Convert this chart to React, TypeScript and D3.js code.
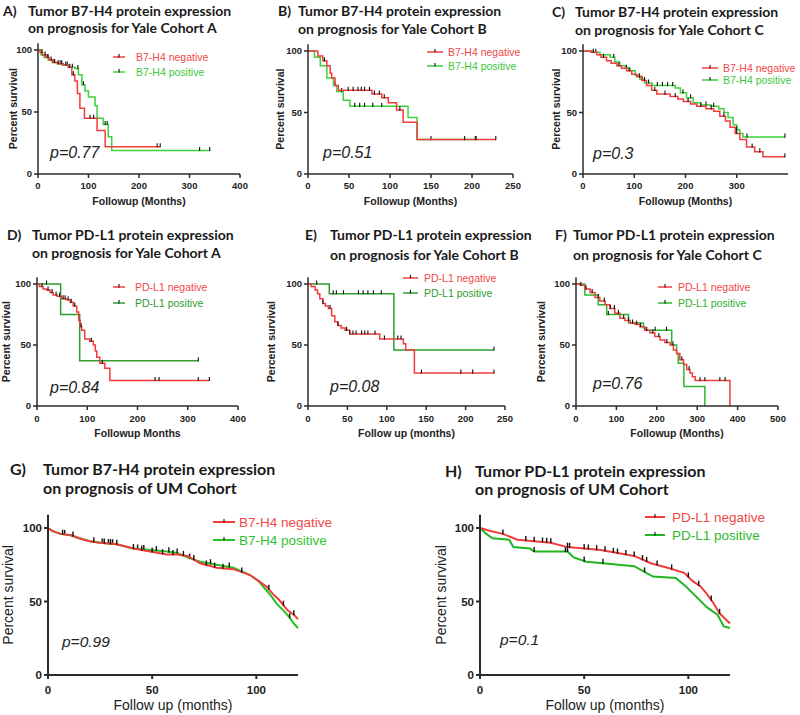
import React from "react";
import * as d3 from "d3";

type Pt = [number, number];

// ---------- Panel A: B7-H4, Yale Cohort A ----------
const aNeg: Pt[] = [[0,100],[4,98],[9,96],[15,94],[22,92],[30,90],[40,89],[50,88],[60,86],[67,80],[73,75],[78,65],[83,53],[92,45],[117,35],[133,22],[242,22]];
const aNegCens = [8,14,20,26,33,40,47,55,63,70,103,110,236,242];
const aPos: Pt[] = [[0,100],[6,96],[12,94],[20,92],[28,90],[38,89],[48,88],[60,86],[73,85],[80,80],[87,72],[93,67],[100,62],[113,55],[117,45],[129,40],[139,30],[146,19],[341,19]];
const aPosCens = [18,30,44,58,68,79,90,133,137,320,340];

// ---------- Panel B: B7-H4, Yale Cohort B ----------
const bNeg: Pt[] = [[0,100],[12,96],[18,92],[23,88],[27,82],[29,78],[33,72],[37,68],[78,65],[90,62],[98,58],[108,52],[116,42],[133,28],[229,28]];
const bNegCens = [20,49,55,61,65,69,75,81,87,93,112,191,205,229];
const bPos: Pt[] = [[0,100],[8,95],[15,88],[23,78],[31,72],[35,67],[43,60],[51,55],[122,46],[133,28],[204,28]];
const bPosCens = [33,41,57,63,69,79,90,150,204];

// ---------- Panel C: B7-H4, Yale Cohort C ----------
const cNeg: Pt[] = [[0,100],[15,99],[27,97],[35,95],[46,92],[55,90],[66,88],[75,86],[85,84],[95,81],[105,79],[115,76],[124,72],[134,68],[144,65],[170,63],[185,61],[196,59],[210,57],[222,55],[240,53],[255,51],[267,47],[278,43],[287,38],[297,33],[306,28],[319,22],[335,18],[351,14],[394,14]];
const cNegCens = [20,40,70,90,110,120,140,160,180,205,230,250,275,300,330,345,394];
const cPos: Pt[] = [[0,100],[20,99],[33,97],[53,95],[62,91],[72,88],[82,86],[92,84],[102,80],[111,77],[120,74],[135,72],[180,70],[190,66],[202,62],[215,58],[230,56],[250,55],[265,53],[275,50],[283,46],[293,40],[300,36],[306,33],[312,30],[394,30]];
const cPosCens = [25,60,85,115,128,145,155,165,175,195,210,240,255,300,320,394];

// ---------- Panel D: PD-L1, Yale Cohort A ----------
const dNeg: Pt[] = [[0,100],[5,98],[12,96],[19,95],[26,93],[32,91],[40,90],[49,88],[58,87],[66,85],[72,82],[79,77],[83,70],[86,65],[89,62],[95,55],[105,53],[112,50],[116,45],[119,40],[125,35],[135,31],[145,21],[343,21]];
const dNegCens = [10,22,30,38,45,52,56,62,68,75,88,108,130,235,243,321,343];
const dPos: Pt[] = [[0,100],[47,75],[85,37],[321,37]];
const dPosCens = [19,321];

// ---------- Panel E: PD-L1, Yale Cohort B ----------
const eNeg: Pt[] = [[0,100],[4,98],[9,95],[12,92],[15,88],[19,84],[22,82],[26,80],[30,74],[34,69],[38,66],[42,64],[47,62],[53,59],[91,55],[121,51],[124,46],[135,27],[236,27]];
const eNegCens = [19,28,38,49,53,57,61,68,72,76,85,97,114,118,144,194,209,236];
const ePos: Pt[] = [[0,100],[27,92],[109,46],[236,46]];
const ePosCens = [11,32,36,45,64,70,76,83,93,236];

// ---------- Panel F: PD-L1, Yale Cohort C ----------
const fNeg: Pt[] = [[0,100],[10,99],[22,96],[35,93],[47,89],[59,86],[72,83],[84,80],[96,76],[109,72],[121,70],[134,68],[146,67],[158,65],[170,62],[183,60],[195,57],[208,54],[220,52],[233,50],[241,46],[249,43],[257,38],[266,34],[274,30],[282,27],[288,24],[295,21],[381,21],[381,0]];
const fNegCens = [12,25,40,55,70,85,95,105,118,130,140,150,160,175,190,205,225,240,262,280,307,319,356,369];
const fPos: Pt[] = [[0,100],[22,91],[55,83],[76,75],[130,68],[167,64],[171,62],[237,50],[249,43],[253,35],[267,16],[319,16],[319,0]];
const fPosCens = [80,196,224];

// ---------- Panel G: B7-H4, UM Cohort ----------
const gNeg: Pt[] = [[0,100],[2,98],[6,96],[11,95],[15,93],[20,91],[25,90],[33,89],[41,86],[49,84],[57,82],[62,82],[67,81],[73,76],[81,73],[89,72],[97,68],[102,63],[105,60],[108,55],[111,51],[115,44],[118,41],[120,38]];
const gNegCens = [7,12,22,27,30,33,41,45,50,55,60,65,70,76,80,84,93,106,113,118];
const gPos: Pt[] = [[0,100],[2,98],[6,96],[11,95],[15,93],[20,91],[25,90],[33,89],[41,86],[49,85],[57,84],[62,83],[67,80],[73,77],[81,75],[89,73],[97,68],[101,64],[104,59],[107,54],[110,48],[113,44],[116,39],[118,35],[120,32]];
const gPosCens = [8,26,29,31,43,46,52,58,62,68,78,87,116];

// ---------- Panel H: PD-L1, UM Cohort ----------
const hNeg: Pt[] = [[0,100],[5,98],[11,96],[18,92],[26,91],[34,90],[42,87],[50,86],[58,85],[66,83],[74,81],[82,76],[90,73],[98,69.5],[102,64],[106,60],[109,55],[112,49],[115,42],[120,35]];
const hNegCens = [11,22,26,30,32,34,42,43,50,52,56,60,64,66,70,74,78,80,85,92,100,105,111,115];
const hPos: Pt[] = [[0,100],[3,96],[6,93],[14,92],[16,87],[24,86],[26,84],[42,84],[45,80],[51,77],[59,76],[74,74],[83,67],[94,66],[99,60],[104,53],[109,46],[114,41],[117,33],[120,32]];
const hPosCens = [26,41,42,50,59,79];

const yTicks = [0, 50, 100];
const RED = "#f23c3c";

interface Cfg {
  label: string; title1: string; title2: string;
  labelX: number; titleX: number; t1y: number; t2y: number; titleSize: number;
  x0: number; x1: number; y100: number; y0: number; yMax: number;
  domain: [number, number]; xticks: number[];
  xlabel: string; xlabelY: number; tickLabelY: number; ylabelX: number;
  tickSize: number; axisSize: number; axisBold: boolean; axisW: number;
  leg: { l1: number; l2: number; tx: number; y1: number; y2: number; size: number };
  names: [string, string];
  p: { text: string; x: number; y: number; size: number };
  neg: Pt[]; pos: Pt[]; negC: number[]; posC: number[];
  green: string; greenText: string; linear: boolean; lw: number;
}

const small = (o: Partial<Cfg>): Partial<Cfg> => ({
  titleSize: 14, yMax: 105.5, tickSize: 9.5, axisSize: 10.5, axisBold: true, axisW: 1.5, linear: false, lw: 1.5, ...o,
});

const panels: Cfg[] = [
  small({ label: "A)", title1: "Tumor B7-H4 protein expression", title2: "on prognosis for Yale Cohort A", labelX: 3, titleX: 28, t1y: 16, t2y: 33,
    x0: 38, x1: 240, y100: 50, y0: 174, domain: [0, 400], xticks: [0, 100, 200, 300, 400], xlabel: "Followup (Months)", xlabelY: 204.5, tickLabelY: 189, ylabelX: 13,
    leg: { l1: 113, l2: 125, tx: 136, y1: 57, y2: 72, size: 10.5 }, names: ["B7-H4 negative", "B7-H4 positive"], p: { text: "p=0.77", x: 50, y: 158, size: 16 },
    neg: aNeg, pos: aPos, negC: aNegCens, posC: aPosCens, green: "#3ed23e", greenText: "#3ec83e" }),
  small({ label: "B)", title1: "Tumor B7-H4 protein expression", title2: "on prognosis for Yale Cohort B", labelX: 278, titleX: 298, t1y: 16, t2y: 34,
    x0: 308, x1: 513, y100: 51, y0: 174, domain: [0, 250], xticks: [0, 50, 100, 150, 200, 250], xlabel: "Followup (Months)", xlabelY: 204.5, tickLabelY: 189, ylabelX: 280,
    leg: { l1: 427, l2: 443, tx: 448, y1: 52, y2: 66, size: 10.5 }, names: ["B7-H4 negative", "B7-H4 positive"], p: { text: "p=0.51", x: 323, y: 158, size: 16 },
    neg: bNeg, pos: bPos, negC: bNegCens, posC: bPosCens, green: "#3ed23e", greenText: "#3ec83e" }),
  small({ label: "C)", title1: "Tumor B7-H4 protein expression", title2: "on prognosis for Yale Cohort C", labelX: 552, titleX: 575, t1y: 17, t2y: 35,
    x0: 583, x1: 788, y100: 51, y0: 174, domain: [0, 400], xticks: [0, 100, 200, 300], xlabel: "Followup (Months)", xlabelY: 204.5, tickLabelY: 189, ylabelX: 556,
    leg: { l1: 702, l2: 718, tx: 723, y1: 68, y2: 80, size: 10.5 }, names: ["B7-H4 negative", "B7-H4 positive"], p: { text: "p=0.3", x: 593, y: 159, size: 16 },
    neg: cNeg, pos: cPos, negC: cNegCens, posC: cPosCens, green: "#3ed23e", greenText: "#3ec83e" }),
  small({ label: "D)", title1: "Tumor PD-L1 protein expression", title2: "on prognosis for Yale Cohort A", labelX: 7, titleX: 32, t1y: 240, t2y: 258,
    x0: 37, x1: 238, y100: 284, y0: 406, domain: [0, 400], xticks: [0, 100, 200, 300, 400], xlabel: "Followup Months", xlabelY: 437, tickLabelY: 421.5, ylabelX: 6,
    leg: { l1: 113, l2: 125, tx: 135, y1: 287, y2: 303, size: 10.5 }, names: ["PD-L1 negative", "PD-L1 positive"], p: { text: "p=0.84", x: 50, y: 393, size: 16 },
    neg: dNeg, pos: dPos, negC: dNegCens, posC: dPosCens, green: "#2f9e2f", greenText: "#2f9a2f" }),
  small({ label: "E)", title1: "Tumor PD-L1 protein expression", title2: "on prognosis for Yale Cohort B", labelX: 305, titleX: 330, t1y: 240, t2y: 260,
    x0: 308, x1: 505, y100: 284, y0: 406, domain: [0, 250], xticks: [0, 50, 100, 150, 200, 250], xlabel: "Follow up (months)", xlabelY: 437, tickLabelY: 421.5, ylabelX: 271,
    leg: { l1: 403, l2: 418, tx: 424, y1: 278, y2: 293, size: 10.5 }, names: ["PD-L1 negative", "PD-L1 positive"], p: { text: "p=0.08", x: 330, y: 392, size: 16 },
    neg: eNeg, pos: ePos, negC: eNegCens, posC: ePosCens, green: "#2f9e2f", greenText: "#2f9a2f" }),
  small({ label: "F)", title1: "Tumor PD-L1 protein expression", title2: "on prognosis for Yale Cohort C", labelX: 555, titleX: 573, t1y: 240, t2y: 260,
    x0: 576, x1: 778, y100: 284, y0: 406, domain: [0, 500], xticks: [0, 100, 200, 300, 400, 500], xlabel: "Followup (Months)", xlabelY: 437, tickLabelY: 421.5, ylabelX: 541,
    leg: { l1: 658, l2: 672, tx: 678, y1: 287, y2: 303, size: 10.5 }, names: ["PD-L1 negative", "PD-L1 positive"], p: { text: "p=0.76", x: 593, y: 389, size: 16 },
    neg: fNeg, pos: fPos, negC: fNegCens, posC: fPosCens, green: "#2fb82f", greenText: "#2fb02f" }),
  small({ label: "G)", title1: "Tumor B7-H4 protein expression", title2: "on prognosis of UM Cohort", labelX: 10, titleX: 43, t1y: 475, t2y: 494, titleSize: 16,
    x0: 48, x1: 298, y100: 528, y0: 675, yMax: 109, domain: [0, 120], xticks: [0, 50, 100], xlabel: "Follow up (months)", xlabelY: 710, tickLabelY: 693.5, ylabelX: 8,
    tickSize: 11.5, axisSize: 14, axisBold: false, axisW: 2,
    leg: { l1: 213, l2: 235, tx: 239, y1: 522, y2: 540, size: 13.5 }, names: ["B7-H4 negative", "B7-H4 positive"], p: { text: "p=0.99", x: 62, y: 647, size: 15.5 },
    neg: gNeg, pos: gPos, negC: gNegCens, posC: gPosCens, green: "#22c222", greenText: "#2ec42e", linear: true, lw: 2 }),
  small({ label: "H)", title1: "Tumor PD-L1 protein expression", title2: "on prognosis of UM Cohort", labelX: 445, titleX: 475, t1y: 477, t2y: 495, titleSize: 16,
    x0: 480, x1: 730, y100: 528, y0: 675, yMax: 109, domain: [0, 120], xticks: [0, 50, 100], xlabel: "Follow up (months)", xlabelY: 710, tickLabelY: 693.5, ylabelX: 441,
    tickSize: 11.5, axisSize: 14, axisBold: false, axisW: 2,
    leg: { l1: 645, l2: 665, tx: 672, y1: 517, y2: 535, size: 13.5 }, names: ["PD-L1 negative", "PD-L1 positive"], p: { text: "p=0.1", x: 500, y: 645, size: 15.5 },
    neg: hNeg, pos: hPos, negC: hNegCens, posC: hPosCens, green: "#22b522", greenText: "#2eb82e", linear: true, lw: 2 }),
] as Cfg[];

function valueAt(d: Pt[], t: number, linear: boolean): number {
  let v = d[0][1];
  for (let i = 0; i < d.length; i++) {
    if (d[i][0] <= t) v = d[i][1];
    else {
      if (linear && i > 0) {
        const [t0, s0] = d[i - 1];
        const [t1, s1] = d[i];
        v = s0 + ((s1 - s0) * (t - t0)) / (t1 - t0);
      }
      break;
    }
  }
  return v;
}

const AX = "#2b2b2b";
const SANS = "Arial, 'Liberation Sans', sans-serif";
const TITLE = "Lato, 'Open Sans', sans-serif";

function Panel({ c }: { c: Cfg }) {
  const xs = d3.scaleLinear().domain(c.domain).range([c.x0, c.x1]);
  const ys = d3.scaleLinear().domain([0, 100]).range([c.y0, c.y100]);
  const line = d3
    .line<Pt>()
    .x((d) => xs(d[0]))
    .y((d) => ys(d[1]))
    .curve(c.linear ? d3.curveLinear : d3.curveStepAfter);
  const yTop = ys(c.yMax);
  const series = [
    { data: c.pos, cens: c.posC, color: c.green },
    { data: c.neg, cens: c.negC, color: RED },
  ];
  const cw = c.linear ? 1.4 : 1.1;
  const ch = c.linear ? 4.5 : 3.5;
  return (
    <g>
      <text fontFamily={TITLE} fontWeight={700} fontSize={c.titleSize} fill="#1a1a1a">
        <tspan x={c.labelX} y={c.t1y}>{c.label}</tspan>
        <tspan x={c.titleX} y={c.t1y}>{c.title1}</tspan>
        <tspan x={c.titleX} y={c.t2y}>{c.title2}</tspan>
      </text>
      {/* curves */}
      {series.map((s, i) => (
        <g key={i}>
          <path d={line(s.data) || ""} fill="none" stroke={s.color} strokeWidth={c.lw} />
          {s.cens.map((t, j) => {
            const x = xs(t);
            const y = ys(valueAt(s.data, t, c.linear));
            return <line key={j} x1={x} x2={x} y1={y - ch} y2={y + 0.6} stroke="#111" strokeWidth={cw} />;
          })}
        </g>
      ))}
      {/* axes */}
      <line x1={c.x0} x2={c.x0} y1={c.y0 + c.axisW / 2} y2={yTop} stroke={AX} strokeWidth={c.axisW} />
      <line x1={c.x0 - c.axisW / 2} x2={c.x1} y1={c.y0} y2={c.y0} stroke={AX} strokeWidth={c.axisW} />
      {yTicks.map((t) => (
        <g key={"y" + t}>
          <line x1={c.x0 - 4} x2={c.x0} y1={ys(t)} y2={ys(t)} stroke={AX} strokeWidth={c.axisW} />
          <text x={c.x0 - 6} y={ys(t)} dy="0.35em" textAnchor="end" fontFamily={SANS} fontWeight={700} fontSize={c.tickSize} fill="#222">{t}</text>
        </g>
      ))}
      {c.xticks.map((t) => (
        <g key={"x" + t}>
          <line x1={xs(t)} x2={xs(t)} y1={c.y0} y2={c.y0 + 4} stroke={AX} strokeWidth={c.axisW} />
          <text x={xs(t)} y={c.tickLabelY} textAnchor="middle" fontFamily={SANS} fontWeight={700} fontSize={c.tickSize} fill="#222">{t}</text>
        </g>
      ))}
      <text x={(c.x0 + c.x1) / 2} y={c.xlabelY} textAnchor="middle" fontFamily={SANS} fontWeight={c.axisBold ? 700 : 400} fontSize={c.axisSize} fill="#222">{c.xlabel}</text>
      <text transform={`translate(${c.ylabelX},${(yTop + c.y0) / 2}) rotate(-90)`} dy="0.35em" textAnchor="middle" fontFamily={SANS} fontWeight={c.axisBold ? 700 : 400} fontSize={c.axisSize} fill="#222">Percent survival</text>
      {/* legend */}
      {[
        { y: c.leg.y1, col: RED, tcol: "#f04848", name: c.names[0] },
        { y: c.leg.y2, col: c.green, tcol: c.greenText, name: c.names[1] },
      ].map((l, i) => (
        <g key={"l" + i}>
          <line x1={c.leg.l1} x2={c.leg.l2} y1={l.y} y2={l.y} stroke={l.col} strokeWidth={c.lw} />
          <line x1={(c.leg.l1 + c.leg.l2) / 2} x2={(c.leg.l1 + c.leg.l2) / 2} y1={l.y - 3} y2={l.y + 0.5} stroke="#111" strokeWidth={1.1} />
          <text x={c.leg.tx} y={l.y} dy="0.35em" fontFamily={SANS} fontSize={c.leg.size} fill={l.tcol}>{l.name}</text>
        </g>
      ))}
      <text x={c.p.x} y={c.p.y} fontFamily={SANS} fontStyle="italic" fontSize={c.p.size} fill="#222">{c.p.text}</text>
    </g>
  );
}

export default function App() {
  return (
    <svg width={800} height={715} viewBox="0 0 800 715" style={{ position: "absolute", left: 0, top: 0, background: "#fff" }}>
      <rect x={0} y={0} width={800} height={715} fill="#fff" />
      {panels.map((c, i) => (
        <Panel key={i} c={c} />
      ))}
    </svg>
  );
}
